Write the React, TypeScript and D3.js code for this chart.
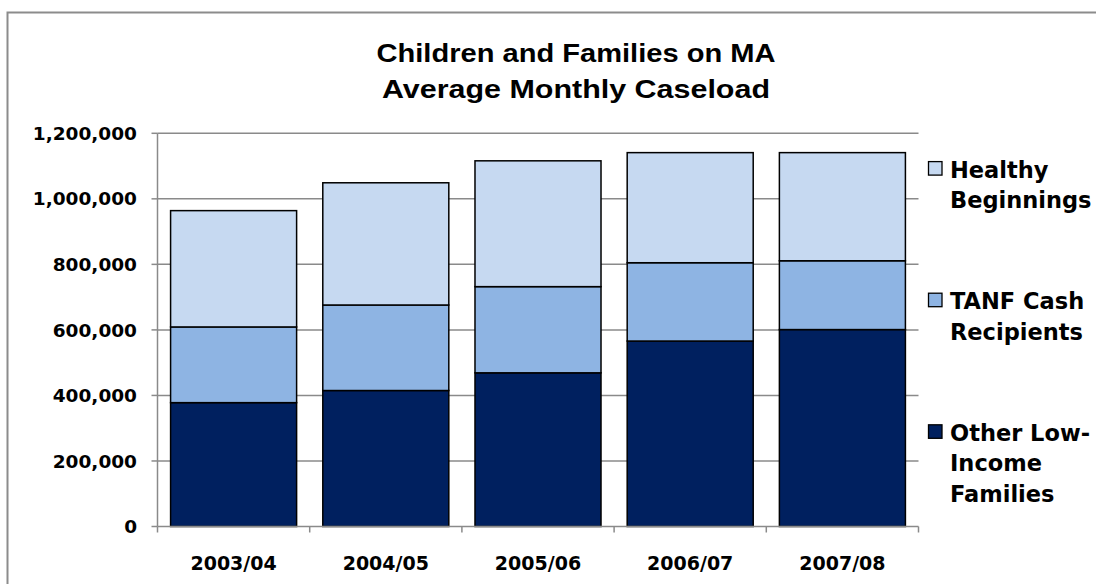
import React from "react";
import * as d3 from "d3";

const categories = ["2003/04", "2004/05", "2005/06", "2006/07", "2007/08"];
const otherLowIncome = [378000, 415000, 469000, 566000, 601000];
const tanfCash = [231000, 261000, 263000, 239000, 210000];
const healthyBeginnings = [355000, 373000, 384000, 336000, 330000];
const yTicks = [0, 200000, 400000, 600000, 800000, 1000000, 1200000];
const titleLines = ["Children and Families on MA", "Average Monthly Caseload"];

const seriesKeys = ["other", "tanf", "hb"];
const seriesColors: Record<string, string> = { other: "#00205F", tanf: "#8EB4E3", hb: "#C6D9F1" };
const legendEntries = [
  { key: "hb", lines: ["Healthy", "Beginnings"] },
  { key: "tanf", lines: ["TANF Cash", "Recipients"] },
  { key: "other", lines: ["Other Low-", "Income", "Families"] },
];

const W = 1096;
const H = 584;
const left = 157.5;
const right = 918.5;
const top = 133.3;
const bottom = 526.5;

export default function App() {
  const rows = categories.map((c, i) => ({
    cat: c,
    other: otherLowIncome[i],
    tanf: tanfCash[i],
    hb: healthyBeginnings[i],
  }));
  const stacked = d3.stack<any>().keys(seriesKeys)(rows);
  const x = d3.scaleBand<string>().domain(categories).range([left, right]).paddingInner(0.172).paddingOuter(0.086);
  const y = d3.scaleLinear().domain([0, 1200000]).range([bottom, top]);
  const fmt = d3.format(",");
  const step = x.step();
  const axisFont = "'DejaVu Sans', Verdana, sans-serif";
  const gridColor = "#8A8A8A";

  return (
    <svg width={W} height={H} style={{ position: "absolute", left: 0, top: 0, display: "block", background: "#fff" }}>
      <rect x={7.5} y={12.5} width={1200} height={700} fill="#fff" stroke="#8C8C8C" strokeWidth={2} />
      {titleLines.map((t, i) => (
        <text
          key={t}
          x={576}
          y={61.7 + i * 36.6}
          textAnchor="middle"
          fontFamily="'Liberation Sans', Arial, sans-serif"
          fontWeight="bold"
          fontSize={26}
          textLength={i === 0 ? 399 : 388}
          lengthAdjust="spacingAndGlyphs"
          fill="#000"
        >
          {t}
        </text>
      ))}
      {/* gridlines */}
      {yTicks.map((t) => (
        <g key={t}>
          {t > 0 && <line x1={left} x2={right} y1={y(t)} y2={y(t)} stroke={gridColor} strokeWidth={1.5} />}
          <line x1={left - 6} x2={left} y1={y(t)} y2={y(t)} stroke={gridColor} strokeWidth={1.5} />
          <text
            x={137}
            y={y(t)}
            dy="0.36em"
            textAnchor="end"
            fontFamily={axisFont}
            fontWeight="bold"
            fontSize={18.5}
            fill="#000"
          >
            {fmt(t)}
          </text>
        </g>
      ))}
      {/* bars */}
      {stacked.map((s) => (
        <g key={s.key}>
          {s.map((d, i) => (
            <rect
              key={i}
              x={x(categories[i])}
              y={y(d[1])}
              width={x.bandwidth()}
              height={y(d[0]) - y(d[1])}
              fill={seriesColors[s.key]}
              stroke="#000"
              strokeWidth={1.5}
            />
          ))}
        </g>
      ))}
      {/* axes */}
      <line x1={left} x2={left} y1={top} y2={bottom} stroke={gridColor} strokeWidth={1.5} />
      <line x1={left} x2={right} y1={bottom} y2={bottom} stroke={gridColor} strokeWidth={1.5} />
      {d3.range(categories.length + 1).map((k) => (
        <line key={k} x1={left + k * step} x2={left + k * step} y1={bottom} y2={bottom + 6} stroke={gridColor} strokeWidth={1.5} />
      ))}
      {categories.map((c) => (
        <text
          key={c}
          x={(x(c) as number) + x.bandwidth() / 2}
          y={570}
          textAnchor="middle"
          fontFamily={axisFont}
          fontWeight="bold"
          fontSize={19}
          fill="#000"
        >
          {c}
        </text>
      ))}
      {/* legend */}
      {legendEntries.map((e, i) => {
        const base = 177.6 + i * 131.6;
        return (
          <g key={e.key}>
            <rect x={928.5} y={base - 16} width={13.5} height={13.5} fill={seriesColors[e.key]} stroke="#000" strokeWidth={1.3} />
            {e.lines.map((ln, j) => (
              <text
                key={j}
                x={950}
                y={base + j * 30.5}
                fontFamily={axisFont}
                fontWeight="bold"
                fontSize={22.5}
                fill="#000"
              >
                {ln}
              </text>
            ))}
          </g>
        );
      })}
    </svg>
  );
}
